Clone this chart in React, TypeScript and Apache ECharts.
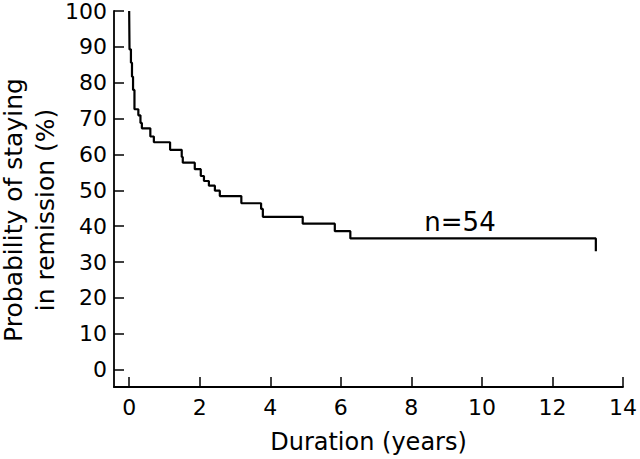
import React, { useEffect, useRef } from "react";
import * as echarts from "echarts";

// Kaplan-Meier estimate: time (years) at which each step occurs, and survival (%) after it
const timeYears = [0, 0.01, 0.05, 0.08, 0.11, 0.15, 0.26, 0.32, 0.36, 0.6, 0.7, 1.16, 1.49, 1.52, 1.86, 2.03, 2.12, 2.26, 2.43, 2.57, 3.18, 3.74, 3.79, 4.92, 5.83, 6.27, 13.23];
const survivalPct = [100, 89.3, 85.6, 81.7, 78.0, 72.6, 70.9, 68.8, 67.3, 65.0, 63.4, 61.3, 59.3, 57.7, 55.9, 54.0, 52.6, 51.3, 49.9, 48.4, 46.4, 44.8, 42.6, 40.7, 38.6, 36.6, 33.0];

const xTicks = [0, 2, 4, 6, 8, 10, 12, 14];
const yTicks = [0, 10, 20, 30, 40, 50, 60, 70, 80, 90, 100];
const xTitle = "Duration (years)";
const yTitle = "Probability of staying\nin remission (%)";
const annotation = "n=54";

export default function App() {
  const ref = useRef<HTMLDivElement>(null);
  useEffect(() => {
    const chart = echarts.init(ref.current!, null, { renderer: "svg" });
    const font = "DejaVu Sans";
    chart.setOption({
      animation: false,
      backgroundColor: "#ffffff",
      grid: { left: 114, right: 12, top: 9.3, bottom: 68.5, containLabel: false },
      xAxis: {
        type: "value",
        min: -0.43,
        max: 14,
        axisLine: { onZero: false, lineStyle: { color: "#000", width: 1.8 } },
        axisTick: { inside: true, length: 10, customValues: xTicks, lineStyle: { color: "#000", width: 1.5 } },
        axisLabel: { customValues: xTicks, color: "#000", fontSize: 22, fontFamily: font, margin: 9 },
        splitLine: { show: false },
        name: xTitle,
        nameLocation: "middle",
        nameGap: 43,
        nameTextStyle: { color: "#000", fontSize: 24, fontFamily: font },
      },
      yAxis: {
        type: "value",
        min: -4.84,
        max: 100,
        axisLine: { onZero: false, lineStyle: { color: "#000", width: 1.8 } },
        axisTick: { inside: true, length: 10, customValues: yTicks, lineStyle: { color: "#000", width: 1.5 } },
        axisLabel: { customValues: yTicks, color: "#000", fontSize: 22, fontFamily: font, margin: 7 },
        splitLine: { show: false },
      },
      series: [
        {
          type: "line",
          step: "end",
          data: timeYears.map((t, i) => [t, survivalPct[i]]),
          showSymbol: false,
          symbol: "none",
          lineStyle: { color: "#000", width: 2.2 },
        },
      ],
      graphic: [
        {
          type: "text",
          x: 29,
          y: 210,
          rotation: Math.PI / 2,
          style: {
            text: yTitle,
            fontSize: 25,
            fontFamily: font,
            fill: "#000",
            align: "center",
            verticalAlign: "middle",
            lineHeight: 32,
          },
        },
        {
          type: "text",
          x: 460,
          y: 222,
          style: {
            text: annotation,
            fontSize: 26,
            fontFamily: font,
            fill: "#000",
            align: "center",
            verticalAlign: "middle",
          },
        },
      ],
    });
    return () => chart.dispose();
  }, []);
  return <div ref={ref} style={{ position: "fixed", left: 0, top: 0, width: 640, height: 459 }} />;
}
